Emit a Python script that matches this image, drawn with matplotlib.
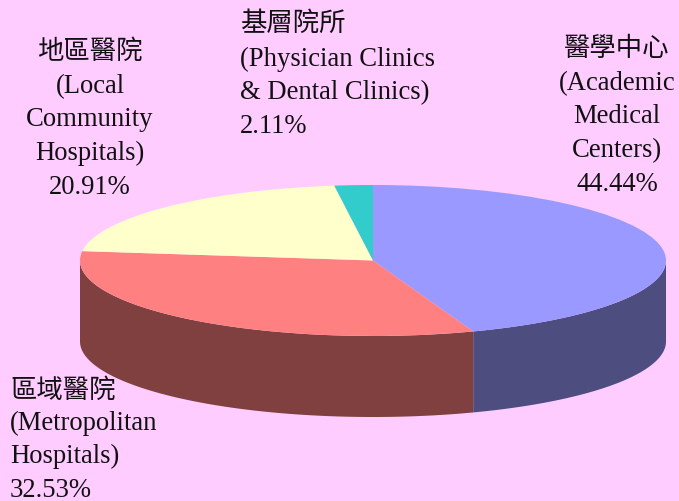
import numpy as np
import matplotlib
matplotlib.use("Agg")
import matplotlib.pyplot as plt

zh_labels = ["醫學中心", "區域醫院", "地區醫院", "基層院所"]
en_labels = ["(Academic\nMedical\nCenters)", "(Metropolitan\nHospitals)", "(Local\nCommunity\nHospitals)", "(Physician Clinics\n& Dental Clinics)"]
shares = [44.44, 32.53, 20.91, 2.11]
top_colors = ["#9999FF", "#FF8080", "#FFFFCC", "#33CCCC"]
side_colors = ["#4D4D80", "#804040", "#808066", "#1A6666"]
BG = "#FFCCFF"
W, H = 679, 501
CX, CY, RX, RY, DEPTH = 373, 260.5, 293, 75.5, 81

fig = plt.figure(figsize=(W/100, H/100), dpi=100, facecolor=BG)
tx = fig.add_axes([0, 0, 1, 1]); tx.set_xlim(0, W); tx.set_ylim(H, 0); tx.axis("off")
tx.patch.set_alpha(0)

ax = fig.add_axes([(CX-RX)/W, 1-(CY+RY)/H, 2*RX/W, 2*RY/H])
ax.patch.set_alpha(0)

total = sum(shares)
edges = np.concatenate([[0], np.cumsum(shares)]) / total * 360
d = 2*DEPTH/(2*RY)
for i, c in enumerate(side_colors):
    a0, a1 = max(edges[i], 90), min(edges[i+1], 270)
    if a1 <= a0:
        continue
    th = np.radians(np.linspace(a0, a1, 200))
    x, y = np.sin(th), np.cos(th)
    ax.fill(np.r_[x, x[::-1]], np.r_[y, (y-d)[::-1]], color=c, lw=0, clip_on=False)

ax.pie(shares, colors=top_colors, startangle=90, counterclock=False, radius=1,
       wedgeprops=dict(linewidth=0))
ax.set_aspect("auto")
ax.set_xlim(-1, 1); ax.set_ylim(-1, 1)
for p in ax.patches:
    p.set_clip_on(False)
ax.set_axis_off()

FZH = dict(family=["Noto Sans CJK TC", "DejaVu Sans"], fontsize=19, color="#111111", va="baseline")
FEN = dict(family="Liberation Serif", fontsize=19.2, color="#111111", va="baseline")
LINE = 33.7

def block(x, yzh, yen, zh, en, pct, ha):
    tx.text(x, yzh, zh, ha=ha, **FZH)
    y = yen
    for line in en.split("\n"):
        y += LINE
        tx.text(x, y, line, ha=ha, **FEN)
    y += LINE
    tx.text(x, y, f"{pct:.2f}%", ha=ha, **FEN)

block(617, 56, 56, zh_labels[0], en_labels[0], shares[0], "center")
block(10, 398, 396, zh_labels[1], en_labels[1], shares[1], "left")
block(90, 59, 59, zh_labels[2], en_labels[2], shares[2], "center")
block(240, 31, 32, zh_labels[3], en_labels[3], shares[3], "left")

fig.savefig("out.png", dpi=100, facecolor=BG)
